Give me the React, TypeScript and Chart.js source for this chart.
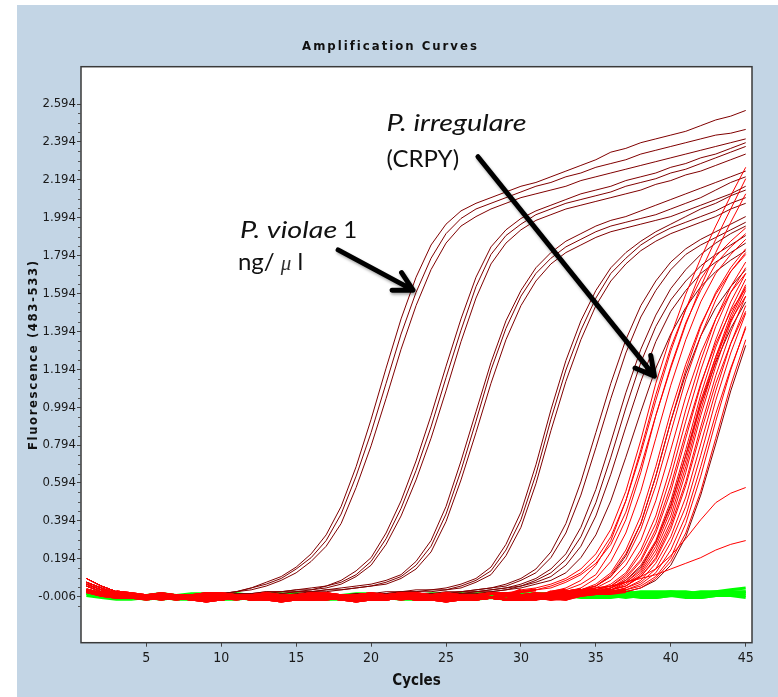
import { useEffect, useRef } from 'react';
import { Chart, registerables } from 'chart.js';

Chart.register(...registerables);

// ---------------- data ----------------
const cycles = [
  1, 2, 3, 4, 5, 6, 7, 8, 9, 10, 11, 12, 13, 14, 15,
  16, 17, 18, 19, 20, 21, 22, 23, 24, 25, 26, 27, 28, 29, 30,
  31, 32, 33, 34, 35, 36, 37, 38, 39, 40, 41, 42, 43, 44, 45,
];
const xTickValues = [5, 10, 15, 20, 25, 30, 35, 40, 45];
const yTickValues = [-0.006, 0.194, 0.394, 0.594, 0.794, 0.994, 1.194, 1.394, 1.594, 1.794, 1.994, 2.194, 2.394, 2.594];
const yMinorTickValues = [
  -0.056, 0.044, 0.094, 0.144, 0.244, 0.294, 0.344, 0.444, 0.494, 0.544, 0.644, 0.694, 0.744,
  0.844, 0.894, 0.944, 1.044, 1.094, 1.144, 1.244, 1.294, 1.344, 1.444, 1.494, 1.544,
  1.644, 1.694, 1.744, 1.844, 1.894, 1.944, 2.044, 2.094, 2.144, 2.244, 2.294, 2.344, 2.444, 2.494, 2.544,
];

// baseline (pre-amplification) readings, cycles 1..45
const baseline0 = [
  0.09, 0.05, 0.02, 0.01, 0.0, -0.01, 0.0, -0.01, -0.01, 0.0, -0.01, -0.02, -0.01, 0.0, -0.01,
  -0.01, 0.0, -0.01, -0.02, -0.01, 0.0, 0.0, -0.01, -0.01, 0.0, -0.01, -0.02, -0.01, 0.0, -0.01,
  0.0, 0.0, -0.01, -0.01, 0.0, 0.0, 0.01, 0.0, 0.0, 0.01, 0.0, 0.01, 0.0, 0.01, 0.01,
];
const baseline1 = [
  0.07, 0.04, 0.01, 0.0, -0.01, -0.01, -0.02, -0.01, -0.02, -0.02, -0.01, -0.01, -0.02, -0.02, -0.01,
  -0.02, -0.02, -0.01, -0.01, -0.02, -0.02, -0.01, -0.02, -0.02, -0.01, -0.02, -0.01, -0.01, -0.02, -0.02,
  -0.01, -0.02, -0.02, -0.01, -0.01, -0.02, -0.01, -0.02, -0.01, -0.01, -0.02, -0.01, -0.01, -0.02, -0.01,
];
const baseline2 = [
  0.05, 0.02, 0.01, 0.0, 0.0, 0.01, 0.0, 0.0, 0.01, 0.01, 0.0, 0.0, 0.01, 0.0, 0.0,
  0.01, 0.01, 0.0, 0.0, 0.01, 0.0, 0.01, 0.01, 0.0, 0.01, 0.0, 0.0, 0.01, 0.01, 0.0,
  0.01, 0.0, 0.0, 0.01, 0.01, 0.0, 0.01, 0.01, 0.0, 0.01, 0.01, 0.0, 0.01, 0.01, 0.0,
];
const baseline3 = [
  0.03, 0.01, 0.0, -0.01, -0.01, -0.02, -0.01, -0.02, -0.03, -0.02, -0.01, -0.02, -0.02, -0.03, -0.02,
  -0.02, -0.01, -0.02, -0.03, -0.02, -0.02, -0.01, -0.02, -0.02, -0.03, -0.02, -0.02, -0.01, -0.02, -0.02,
  -0.02, -0.03, -0.02, -0.01, -0.02, -0.02, -0.02, -0.01, -0.02, -0.02, -0.01, -0.02, -0.02, -0.01, -0.02,
];
const baseline4 = [
  0.06, 0.03, 0.01, 0.0, -0.01, 0.0, -0.01, -0.01, 0.0, -0.01, 0.0, -0.01, 0.0, 0.0, -0.01,
  0.0, -0.01, 0.0, -0.01, 0.0, 0.0, -0.01, 0.0, -0.01, -0.01, 0.0, 0.0, -0.01, 0.0, 0.0,
  -0.01, 0.0, 0.0, 0.0, -0.01, 0.0, 0.0, 0.01, 0.0, 0.0, 0.0, 0.01, 0.0, 0.0, 0.01,
];
const baseline5 = [
  0.02, 0.0, -0.01, -0.01, -0.02, -0.01, -0.01, -0.02, -0.01, -0.01, -0.02, -0.01, -0.01, -0.01, -0.02,
  -0.01, -0.01, -0.02, -0.01, -0.01, -0.01, -0.02, -0.01, -0.01, -0.02, -0.01, -0.01, -0.01, -0.02, -0.01,
  -0.01, -0.01, -0.02, -0.01, -0.01, -0.01, -0.02, -0.01, -0.01, -0.01, -0.01, -0.02, -0.01, -0.01, -0.01,
];
const baselines = [baseline0, baseline1, baseline2, baseline3, baseline4, baseline5];

// negative controls (green), cycles 1..45
const negative0 = [
  0.03, 0.01, 0.0, -0.01, -0.01, 0.0, -0.01, -0.01, 0.0, -0.01, -0.01, 0.0, 0.0, -0.01, 0.0,
  0.0, -0.01, 0.0, 0.0, -0.01, 0.0, 0.0, 0.0, -0.01, 0.0, 0.0, 0.0, 0.0, -0.01, 0.0,
  0.0, 0.0, 0.01, 0.0, 0.0, 0.01, 0.0, 0.01, 0.0, 0.01, 0.01, 0.0, 0.01, 0.01, 0.02,
];
const negative1 = [
  0.01, 0.0, -0.01, -0.01, -0.02, -0.01, -0.02, -0.02, -0.01, -0.02, -0.02, -0.01, -0.02, -0.02, -0.01,
  -0.01, -0.02, -0.02, -0.01, -0.02, -0.01, -0.01, -0.02, -0.01, -0.01, -0.02, -0.01, -0.01, -0.01, -0.02,
  -0.01, -0.01, 0.0, -0.01, -0.01, 0.0, -0.01, 0.0, -0.01, 0.0, 0.0, -0.01, 0.0, 0.0, 0.0,
];
const negative2 = [
  0.02, 0.01, 0.01, 0.0, 0.0, 0.01, 0.0, 0.01, 0.01, 0.0, 0.01, 0.0, 0.01, 0.01, 0.0,
  0.01, 0.0, 0.0, 0.01, 0.01, 0.0, 0.01, 0.0, 0.01, 0.01, 0.0, 0.01, 0.01, 0.0, 0.01,
  0.01, 0.01, 0.02, 0.01, 0.02, 0.02, 0.01, 0.02, 0.02, 0.02, 0.01, 0.02, 0.02, 0.03, 0.04,
];
const negative3 = [
  0.0, -0.01, -0.02, -0.02, -0.01, -0.02, -0.01, -0.02, -0.02, -0.02, -0.01, -0.02, -0.02, -0.01, -0.02,
  -0.02, -0.02, -0.01, -0.02, -0.02, -0.01, -0.02, -0.02, -0.02, -0.01, -0.02, -0.02, -0.01, -0.02, -0.02,
  -0.01, -0.01, -0.01, 0.0, -0.01, -0.01, 0.0, -0.01, -0.01, 0.0, -0.01, -0.01, 0.0, 0.0, -0.01,
];
const negative4 = [
  0.02, 0.0, 0.0, -0.01, 0.0, 0.0, -0.01, 0.0, 0.0, 0.0, -0.01, 0.0, 0.0, 0.0, 0.01,
  0.0, 0.0, 0.0, -0.01, 0.0, 0.0, 0.01, 0.0, 0.0, 0.0, 0.01, 0.0, 0.0, 0.01, 0.0,
  0.01, 0.01, 0.01, 0.02, 0.01, 0.01, 0.02, 0.01, 0.01, 0.02, 0.02, 0.01, 0.02, 0.02, 0.02,
];
const negative5 = [
  0.01, 0.0, -0.01, 0.0, -0.01, -0.01, 0.0, -0.01, -0.01, 0.0, -0.01, -0.01, -0.01, 0.0, -0.01,
  -0.01, 0.0, -0.01, -0.01, -0.01, 0.0, -0.01, -0.01, 0.0, -0.01, -0.01, 0.0, -0.01, 0.0, 0.0,
  0.0, 0.01, 0.0, 0.0, 0.01, 0.0, 0.01, 0.01, 0.0, 0.01, 0.01, 0.01, 0.01, 0.01, 0.01,
];
const negatives = [negative0, negative1, negative2, negative3, negative4, negative5];

// P. violae dilution series (dark red), values from the given start cycle to 45
const startA = 10;
const seriesA = [
  [0.01, 0.02, 0.04, 0.07, 0.1, 0.15, 0.22, 0.32, 0.47, 0.68, 0.93, 1.2, 1.46, 1.68, 1.85, 1.96, 2.03, 2.07, 2.1, 2.13, 2.16, 2.18, 2.21, 2.24, 2.27, 2.3, 2.34, 2.36, 2.39, 2.41, 2.43, 2.45, 2.48, 2.51, 2.53, 2.56],
  [0.01, 0.02, 0.04, 0.06, 0.09, 0.14, 0.2, 0.29, 0.43, 0.63, 0.86, 1.12, 1.38, 1.6, 1.78, 1.91, 1.99, 2.04, 2.07, 2.1, 2.13, 2.16, 2.18, 2.21, 2.23, 2.26, 2.28, 2.3, 2.33, 2.35, 2.37, 2.39, 2.41, 2.43, 2.44, 2.46],
  [0.01, 0.02, 0.03, 0.05, 0.08, 0.12, 0.18, 0.26, 0.38, 0.57, 0.79, 1.04, 1.3, 1.53, 1.72, 1.86, 1.95, 2.0, 2.04, 2.07, 2.1, 2.12, 2.14, 2.16, 2.19, 2.21, 2.23, 2.25, 2.27, 2.29, 2.31, 2.33, 2.35, 2.37, 2.39, 2.41],
];
const startB = 10;
const seriesB = [
  [0.0, 0.01, 0.01, 0.02, 0.02, 0.03, 0.04, 0.05, 0.08, 0.13, 0.2, 0.33, 0.5, 0.71, 0.95, 1.21, 1.46, 1.68, 1.84, 1.93, 1.99, 2.03, 2.06, 2.09, 2.12, 2.14, 2.16, 2.19, 2.21, 2.23, 2.26, 2.28, 2.31, 2.33, 2.36, 2.39],
  [0.0, 0.01, 0.01, 0.02, 0.02, 0.03, 0.03, 0.05, 0.07, 0.11, 0.18, 0.3, 0.46, 0.66, 0.89, 1.15, 1.4, 1.63, 1.8, 1.9, 1.96, 2.01, 2.04, 2.07, 2.09, 2.11, 2.13, 2.16, 2.18, 2.2, 2.23, 2.25, 2.28, 2.31, 2.34, 2.37],
  [0.0, 0.0, 0.01, 0.01, 0.02, 0.02, 0.03, 0.04, 0.06, 0.1, 0.16, 0.27, 0.42, 0.61, 0.83, 1.08, 1.34, 1.57, 1.75, 1.86, 1.93, 1.98, 2.01, 2.04, 2.06, 2.08, 2.1, 2.12, 2.14, 2.17, 2.19, 2.22, 2.24, 2.27, 2.3, 2.33],
];
const startC = 14;
const seriesC = [
  [0.01, 0.02, 0.02, 0.03, 0.04, 0.05, 0.06, 0.08, 0.11, 0.18, 0.29, 0.47, 0.71, 0.97, 1.23, 1.45, 1.61, 1.73, 1.81, 1.87, 1.91, 1.95, 1.98, 2.0, 2.03, 2.06, 2.09, 2.12, 2.15, 2.18, 2.21, 2.24],
  [0.01, 0.02, 0.02, 0.03, 0.03, 0.04, 0.05, 0.07, 0.1, 0.16, 0.26, 0.43, 0.66, 0.92, 1.19, 1.41, 1.58, 1.7, 1.78, 1.84, 1.88, 1.92, 1.95, 1.97, 1.99, 2.01, 2.04, 2.07, 2.1, 2.14, 2.18, 2.21],
  [0.0, 0.01, 0.02, 0.02, 0.03, 0.04, 0.05, 0.06, 0.09, 0.14, 0.23, 0.39, 0.61, 0.86, 1.12, 1.35, 1.53, 1.66, 1.75, 1.81, 1.85, 1.89, 1.92, 1.94, 1.96, 1.98, 2.0, 2.03, 2.06, 2.09, 2.12, 2.16],
];
const startD = 18;
const seriesD = [
  [0.0, 0.01, 0.01, 0.02, 0.02, 0.03, 0.03, 0.04, 0.06, 0.09, 0.15, 0.27, 0.44, 0.69, 0.98, 1.24, 1.45, 1.61, 1.73, 1.81, 1.87, 1.92, 1.96, 2.0, 2.04, 2.07, 2.11, 2.14],
  [0.0, 0.01, 0.01, 0.01, 0.02, 0.02, 0.03, 0.03, 0.05, 0.08, 0.13, 0.24, 0.4, 0.64, 0.93, 1.19, 1.4, 1.57, 1.7, 1.78, 1.85, 1.9, 1.94, 1.97, 2.0, 2.03, 2.07, 2.1],
  [0.0, 0.0, 0.01, 0.01, 0.02, 0.02, 0.02, 0.03, 0.04, 0.07, 0.11, 0.21, 0.36, 0.59, 0.87, 1.13, 1.35, 1.53, 1.66, 1.75, 1.82, 1.87, 1.91, 1.94, 1.97, 2.0, 2.04, 2.07],
];
const startE = 24;
const seriesE = [
  [0.01, 0.02, 0.02, 0.03, 0.04, 0.06, 0.09, 0.14, 0.23, 0.38, 0.6, 0.86, 1.12, 1.35, 1.53, 1.66, 1.76, 1.83, 1.88, 1.92, 1.96, 2.0],
  [0.01, 0.01, 0.02, 0.03, 0.04, 0.05, 0.08, 0.12, 0.2, 0.33, 0.53, 0.78, 1.04, 1.28, 1.47, 1.61, 1.72, 1.8, 1.85, 1.89, 1.93, 1.97],
  [0.01, 0.01, 0.02, 0.02, 0.03, 0.04, 0.06, 0.09, 0.14, 0.22, 0.36, 0.56, 0.81, 1.07, 1.3, 1.48, 1.62, 1.72, 1.8, 1.86, 1.91, 1.95],
  [0.0, 0.01, 0.01, 0.02, 0.03, 0.04, 0.05, 0.08, 0.12, 0.19, 0.31, 0.49, 0.73, 0.99, 1.23, 1.42, 1.56, 1.66, 1.74, 1.8, 1.85, 1.9],
  [0.0, 0.01, 0.01, 0.02, 0.02, 0.03, 0.05, 0.07, 0.1, 0.16, 0.26, 0.42, 0.64, 0.89, 1.13, 1.34, 1.5, 1.61, 1.7, 1.76, 1.81, 1.86],
  [0.0, 0.01, 0.01, 0.01, 0.02, 0.03, 0.04, 0.06, 0.08, 0.12, 0.2, 0.32, 0.5, 0.73, 0.97, 1.2, 1.38, 1.52, 1.63, 1.71, 1.77, 1.82],
];
const startLateDark = 32;
const seriesLateDark = [
  [0.01, 0.02, 0.03, 0.05, 0.1, 0.21, 0.38, 0.63, 0.92, 1.17, 1.37, 1.52, 1.63, 1.72],
  [0.0, -0.01, 0.01, 0.02, 0.04, 0.08, 0.15, 0.28, 0.48, 0.74, 1.01, 1.23, 1.41, 1.55],
  [-0.01, 0.0, 0.0, 0.01, 0.01, 0.02, 0.04, 0.08, 0.16, 0.31, 0.53, 0.8, 1.08, 1.32],
];

// P. irregulare (CRPY) isolates (red)
const startSteep = 30;
const seriesSteep = [
  [0.03, 0.04, 0.06, 0.09, 0.14, 0.22, 0.35, 0.55, 0.82, 1.12, 1.37, 1.59, 1.78, 1.95, 2.11, 2.26],
  [0.02, 0.03, 0.05, 0.08, 0.12, 0.19, 0.31, 0.5, 0.75, 1.03, 1.29, 1.51, 1.71, 1.88, 2.04, 2.2],
  [0.02, 0.03, 0.04, 0.07, 0.11, 0.17, 0.27, 0.44, 0.68, 0.95, 1.2, 1.43, 1.63, 1.81, 1.97, 2.12],
];
const startBulk = 32;
const seriesBulk = [
  [0.02, 0.04, 0.08, 0.16, 0.29, 0.5, 0.77, 1.06, 1.31, 1.51, 1.67, 1.79, 1.87, 1.94],
  [0.02, 0.03, 0.06, 0.11, 0.23, 0.4, 0.65, 0.95, 1.21, 1.44, 1.61, 1.75, 1.84, 1.91],
  [0.01, 0.02, 0.04, 0.09, 0.18, 0.33, 0.55, 0.83, 1.11, 1.35, 1.55, 1.7, 1.8, 1.88],
  [0.01, 0.02, 0.03, 0.06, 0.12, 0.24, 0.42, 0.68, 0.97, 1.22, 1.43, 1.59, 1.71, 1.8],
  [0.0, 0.01, 0.03, 0.05, 0.1, 0.19, 0.35, 0.58, 0.86, 1.14, 1.37, 1.56, 1.71, 1.81],
  [-0.01, 0.0, 0.02, 0.04, 0.08, 0.16, 0.29, 0.5, 0.77, 1.05, 1.28, 1.46, 1.6, 1.7],
  [0.0, 0.01, 0.02, 0.03, 0.06, 0.12, 0.24, 0.42, 0.68, 0.98, 1.24, 1.46, 1.63, 1.76],
  [-0.01, 0.0, 0.02, 0.03, 0.05, 0.11, 0.22, 0.38, 0.63, 0.92, 1.19, 1.42, 1.6, 1.73],
  [0.0, 0.0, 0.02, 0.03, 0.05, 0.1, 0.19, 0.35, 0.58, 0.86, 1.12, 1.33, 1.5, 1.62],
  [-0.01, 0.0, 0.02, 0.03, 0.04, 0.09, 0.18, 0.33, 0.55, 0.83, 1.11, 1.35, 1.55, 1.7],
  [-0.02, -0.01, 0.01, 0.02, 0.04, 0.08, 0.16, 0.29, 0.5, 0.77, 1.06, 1.31, 1.51, 1.67],
  [0.0, 0.0, 0.01, 0.02, 0.04, 0.07, 0.14, 0.28, 0.47, 0.74, 1.03, 1.26, 1.45, 1.58],
  [-0.01, -0.01, 0.01, 0.02, 0.03, 0.06, 0.12, 0.24, 0.42, 0.68, 0.98, 1.24, 1.46, 1.63],
  [-0.02, 0.0, 0.01, 0.02, 0.03, 0.05, 0.11, 0.22, 0.39, 0.65, 0.95, 1.21, 1.44, 1.61],
  [0.0, -0.01, 0.01, 0.02, 0.03, 0.05, 0.1, 0.2, 0.37, 0.6, 0.89, 1.16, 1.39, 1.58],
  [0.01, 0.0, 0.01, 0.02, 0.03, 0.05, 0.1, 0.19, 0.35, 0.58, 0.86, 1.12, 1.33, 1.5],
  [-0.01, -0.02, 0.01, 0.01, 0.02, 0.04, 0.08, 0.17, 0.31, 0.52, 0.8, 1.08, 1.33, 1.53],
  [-0.02, -0.01, 0.0, 0.01, 0.02, 0.04, 0.07, 0.14, 0.28, 0.47, 0.74, 1.03, 1.28, 1.49],
  [-0.01, 0.0, 0.01, 0.01, 0.02, 0.03, 0.06, 0.12, 0.24, 0.42, 0.68, 0.96, 1.2, 1.41],
  [-0.02, -0.02, 0.0, 0.01, 0.02, 0.03, 0.05, 0.1, 0.2, 0.38, 0.63, 0.92, 1.19, 1.42],
  [-0.01, -0.02, 0.0, 0.01, 0.01, 0.02, 0.04, 0.09, 0.18, 0.33, 0.55, 0.83, 1.11, 1.35],
  [0.01, 0.02, 0.03, 0.05, 0.11, 0.22, 0.38, 0.63, 0.92, 1.19, 1.42, 1.6, 1.73, 1.83],
  [0.0, 0.0, 0.01, 0.02, 0.03, 0.07, 0.13, 0.26, 0.45, 0.71, 1.01, 1.26, 1.48, 1.64],
];
const startSlow = 32;
const seriesSlow = [
  [0.01, 0.02, 0.03, 0.04, 0.05, 0.07, 0.1, 0.14, 0.21, 0.3, 0.4, 0.49, 0.54, 0.57],
  [0.01, 0.02, 0.03, 0.04, 0.05, 0.07, 0.09, 0.11, 0.14, 0.17, 0.2, 0.24, 0.27, 0.29],
];

// ---------------- text ----------------
const chartTitle = 'Amplification Curves';
const xTitle = 'Cycles';
const yTitle = 'Fluorescence (483-533)';
const noteLines = [
  { at: [21.03, 2.453], runs: [['P. irregulare', 'italic']] },
  { at: [21.03, 2.26], runs: [['(CRPY)', 'normal']] },
  { at: [11.25, 1.885], runs: [['P. violae', 'italic'], [' 1', 'normal']] },
  { at: [11.11, 1.718], runs: [['ng/ ', 'normal'], ['\u03bc', 'greek'], [' l', 'normal']] },
];
const noteArrows = [
  { from: [17.8, 1.824], to: [22.8, 1.612] },
  { from: [27.13, 2.316], to: [38.91, 1.158] },
];

// ---------------- styles ----------------
const NARROW = '"Liberation Sans Narrow", "Arial Narrow", "DejaVu Sans Condensed", "Liberation Sans", sans-serif';
const NOTE_FAMILY = 'Lato, "Open Sans", "Noto Sans", sans-serif';
const PANEL = '#c3d5e5';
const RED = '#ff0000';
const DARK = '#800000';
const GREEN = '#00ff00';
const BAND_LEVEL = 0.035;

type Pt = { x: number; y: number };

function buildDatasets() {
  const sets: any[] = [];
  let k = 0;
  const add = (group: number[][], start: number, color: string, thickBand: boolean) => {
    group.forEach((rise) => {
      const base = baselines[k % baselines.length];
      k += 1;
      const values = base.slice(0, start - 1).concat(rise);
      const data: Pt[] = values.map((y, i) => ({ x: cycles[i], y }));
      sets.push({
        data, borderColor: color, borderWidth: 1, pointRadius: 0, fill: false, tension: 0,
        segment: thickBand
          ? { borderWidth: (c: any) => (c.p0.parsed.y < BAND_LEVEL && c.p1.parsed.y < BAND_LEVEL ? 2.6 : 1) }
          : undefined,
      });
    });
  };
  add(seriesSteep, startSteep, RED, true);
  add(seriesBulk, startBulk, RED, true);
  add(seriesSlow, startSlow, RED, true);
  add(seriesLateDark, startLateDark, DARK, false);
  add(seriesE, startE, DARK, false);
  add(seriesD, startD, DARK, false);
  add(seriesC, startC, DARK, false);
  add(seriesB, startB, DARK, false);
  add(seriesA, startA, DARK, false);
  negatives.forEach((vals) => {
    sets.push({
      data: vals.map((y, i) => ({ x: cycles[i], y })),
      borderColor: GREEN, borderWidth: 3, pointRadius: 0, fill: false, tension: 0,
    });
  });
  return sets;
}

const decorPlugin = {
  id: 'decor',
  beforeDraw(chart: any) {
    const { ctx, chartArea: a } = chart;
    ctx.save();
    ctx.fillStyle = '#ffffff';
    ctx.fillRect(a.left, a.top, a.right - a.left, a.bottom - a.top);
    ctx.restore();
  },
  afterDatasetsDraw(chart: any) {
    const { ctx, chartArea: a, scales } = chart;
    const xs = scales.x;
    const ys = scales.y;
    ctx.save();
    // frame
    ctx.strokeStyle = '#3a3a3a';
    ctx.lineWidth = 1.5;
    ctx.strokeRect(a.left, a.top, a.right - a.left, a.bottom - a.top);
    // minor ticks
    ctx.lineWidth = 1;
    ctx.strokeStyle = '#555';
    ctx.beginPath();
    yMinorTickValues.forEach((v) => {
      const py = Math.round(ys.getPixelForValue(v)) + 0.5;
      ctx.moveTo(a.left - 3, py);
      ctx.lineTo(a.left, py);
    });
    ctx.stroke();

    // arrows
    ctx.strokeStyle = '#000';
    ctx.lineWidth = 5;
    ctx.lineCap = 'round';
    ctx.lineJoin = 'round';
    ctx.shadowColor = 'rgba(0,0,0,0.35)';
    ctx.shadowBlur = 3;
    ctx.shadowOffsetX = 1;
    ctx.shadowOffsetY = 2;
    noteArrows.forEach((ar) => {
      const fx = xs.getPixelForValue(ar.from[0]);
      const fy = ys.getPixelForValue(ar.from[1]);
      const tx = xs.getPixelForValue(ar.to[0]);
      const ty = ys.getPixelForValue(ar.to[1]);
      const ang = Math.atan2(ty - fy, tx - fx);
      const len = 21;
      const spread = 0.5;
      ctx.beginPath();
      ctx.moveTo(fx, fy);
      ctx.lineTo(tx, ty);
      ctx.moveTo(tx + len * Math.cos(ang + Math.PI - spread), ty + len * Math.sin(ang + Math.PI - spread));
      ctx.lineTo(tx, ty);
      ctx.lineTo(tx + len * Math.cos(ang + Math.PI + spread), ty + len * Math.sin(ang + Math.PI + spread));
      ctx.stroke();
    });
    ctx.shadowColor = 'transparent';

    // note text
    ctx.textBaseline = 'alphabetic';
    ctx.textAlign = 'left';
    noteLines.forEach((ln) => {
      let px = xs.getPixelForValue(ln.at[0]);
      const py = ys.getPixelForValue(ln.at[1]);
      ln.runs.forEach(([txt, style]) => {
        let stretch = 1;
        if (style === 'greek') {
          ctx.font = 'italic 21px "Liberation Serif", "DejaVu Serif", serif';
          ctx.fillStyle = '#333';
        } else if (style === 'italic') {
          ctx.font = `italic 24px ${NOTE_FAMILY}`;
          ctx.fillStyle = '#111';
          stretch = 1.2;
        } else {
          ctx.font = `24px ${NOTE_FAMILY}`;
          ctx.fillStyle = '#111';
        }
        ctx.save();
        ctx.translate(px, py);
        ctx.scale(stretch, 1);
        ctx.fillText(txt, 0, 0);
        ctx.restore();
        px += ctx.measureText(txt).width * stretch;
      });
    });
    ctx.restore();
  },
  afterDraw(chart: any) {
    const { ctx, chartArea: a } = chart;
    ctx.save();
    ctx.fillStyle = '#111';
    ctx.textAlign = 'center';
    ctx.textBaseline = 'middle';
    // chart title
    ctx.font = `bold 13px ${NARROW}`;
    (ctx as any).letterSpacing = '2px';
    ctx.fillText(chartTitle, chart.width / 2 - 7, 42);
    // y title
    ctx.font = `bold 13px ${NARROW}`;
    (ctx as any).letterSpacing = '1.6px';
    ctx.translate(17, (a.top + a.bottom) / 2);
    ctx.rotate(-Math.PI / 2);
    ctx.fillText(yTitle, 0, 0);
    ctx.setTransform(1, 0, 0, 1, 0, 0);
    // x title
    (ctx as any).letterSpacing = '0px';
    ctx.font = `bold 15px ${NARROW}`;
    ctx.fillText(xTitle, (a.left + a.right) / 2, a.bottom + 38);
    ctx.restore();
  },
};

export default function App() {
  const ref = useRef<HTMLCanvasElement>(null);
  useEffect(() => {
    const canvas = ref.current;
    if (!canvas) return;
    const chart = new Chart(canvas, {
      type: 'line',
      data: { datasets: buildDatasets() },
      options: {
        animation: false,
        responsive: false,
        devicePixelRatio: 1,
        events: [],
        layout: { padding: { left: 0, right: 26, top: 61.7, bottom: 0 } },
        plugins: {
          legend: { display: false },
          tooltip: { enabled: false },
          title: { display: false },
        },
        elements: { point: { radius: 0 }, line: { tension: 0 } },
        scales: {
          x: {
            type: 'linear',
            min: 0.64,
            max: 45.42,
            afterBuildTicks: (s: any) => { s.ticks = xTickValues.map((v) => ({ value: v })); },
            afterFit: (s: any) => { s.height = 54.3; },
            border: { display: false },
            grid: { drawOnChartArea: false, drawTicks: true, tickLength: 4, color: '#444' },
            ticks: {
              autoSkip: false, maxRotation: 0, padding: 3, color: '#1a1a1a',
              font: { family: NARROW, size: 14 },
              callback: (v: any) => String(v),
            },
          },
          y: {
            type: 'linear',
            min: -0.249,
            max: 2.791,
            afterBuildTicks: (s: any) => { s.ticks = yTickValues.map((v) => ({ value: v })); },
            afterFit: (s: any) => { s.width = 64; },
            border: { display: false },
            grid: { drawOnChartArea: false, drawTicks: true, tickLength: 4, color: '#444' },
            ticks: {
              padding: 1, color: '#1a1a1a',
              font: { family: NARROW, size: 13 },
              callback: (v: any) => Number(v).toFixed(3),
            },
          },
        },
      },
      plugins: [decorPlugin],
    } as any);
    return () => chart.destroy();
  }, []);
  return (
    <div style={{ position: 'absolute', left: 17, top: 5, width: 761, height: 692, background: PANEL }}>
      <canvas ref={ref} width={761} height={692} style={{ display: 'block', width: 761, height: 692 }} />
    </div>
  );
}
